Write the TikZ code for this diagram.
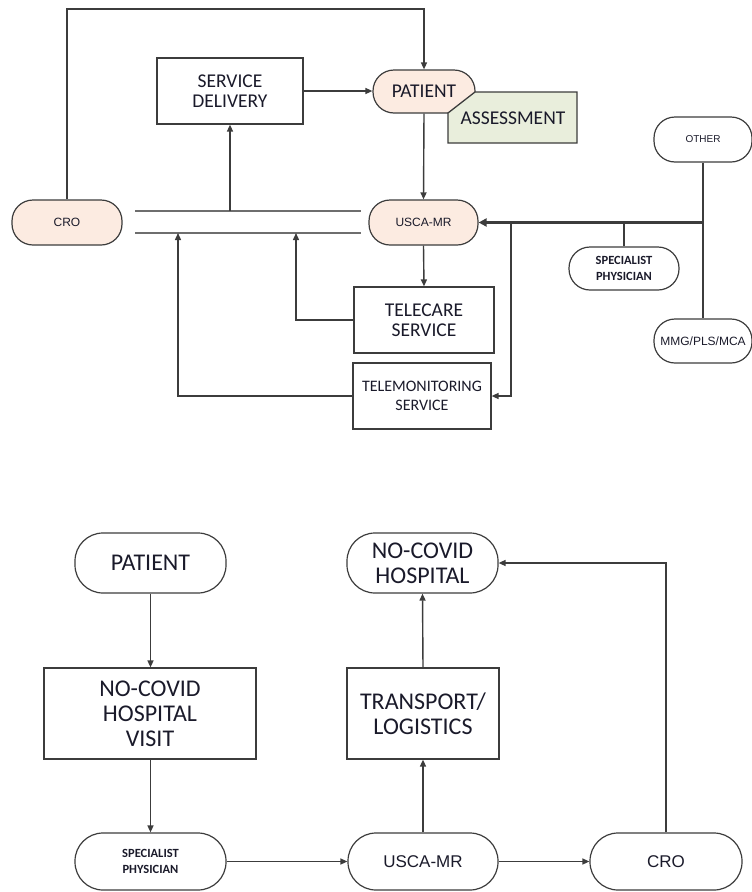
\documentclass[tikz,border=0pt]{standalone}
\usepackage{fontspec}
\setmainfont{Carlito}
\newfontfamily\arialfont{Liberation Sans}
\usetikzlibrary{arrows.meta}
\definecolor{peach}{HTML}{FCEBE1}
\definecolor{sage}{HTML}{E9EEDC}
\definecolor{edge}{HTML}{3C3C3C}
\definecolor{busgray}{HTML}{6E6E6E}
\definecolor{ink}{HTML}{1A1A2A}
\begin{document}
\begin{tikzpicture}[x=1pt,y=-1pt,
  line/.style={draw=edge,line width=1.4pt},
  arr/.style={line,-{Triangle[length=7pt,width=6pt]}},
  bus/.style={draw=busgray,line width=1.7pt},
  pillS/.style={draw=edge,line width=1.2pt,rounded corners=21pt,minimum height=44pt,inner sep=0pt,align=center,text=ink},
  pillL/.style={draw=edge,line width=1.2pt,rounded corners=28pt,minimum height=58pt,inner sep=0pt,align=center,text=ink},
  boxx/.style={draw=edge,line width=1.2pt,inner sep=0pt,align=center,text=ink},
  calS/.style={font=\fontsize{19.5}{20}\selectfont},
  calM/.style={font=\fontsize{16}{19}\selectfont},
  calT/.style={font=\bfseries\fontsize{12.5}{16}\selectfont},
  calL/.style={font=\fontsize{24}{25}\selectfont},
  arS/.style={font=\arialfont\fontsize{12}{14}\selectfont},
  arT/.style={font=\arialfont\fontsize{10}{12}\selectfont},
  arL/.style={font=\arialfont\fontsize{17}{19}\selectfont}
]
\useasboundingbox (0,0) rectangle (752,892);

% ---------- upper flow ----------
\node[boxx,calS,minimum width=146pt,minimum height=66pt] (sd) at (230,91) {SERVICE\\DELIVERY};
\node[pillS,calS,fill=peach,minimum width=102pt,minimum height=43pt] (pat1) at (424,91.5) {PATIENT};
\draw[draw=edge,fill=sage,line width=1.3pt] (448,113) -- (475,92) -- (577,92) -- (577,143) -- (448,143) -- cycle;
\node[calS,text=ink,inner sep=0pt] (assess) at (513,118) {ASSESSMENT};

\node[pillS,arS,fill=peach,minimum width=110pt,minimum height=45pt] (cro1) at (67,222.5) {CRO};
\node[pillS,arS,fill=peach,minimum width=109pt,minimum height=45pt] (usca1) at (423.5,222.5) {USCA-MR};

\node[pillS,arT,minimum width=98pt,minimum height=45pt] (other) at (703,139.5) {OTHER};
\node[pillS,calT,minimum width=110pt,minimum height=43pt] (spec1) at (624,268.5) {SPECIALIST\\PHYSICIAN};
\node[pillS,arS,minimum width=98pt,minimum height=44pt] (mmg) at (703,341) {MMG/PLS/MCA};

\node[boxx,calS,minimum width=140pt,minimum height=66pt] (telecare) at (424,320) {TELECARE\\SERVICE};
\node[boxx,calM,minimum width=138pt,minimum height=66pt] (telemon) at (422,396) {TELEMONITORING\\SERVICE};

% bus lines
\coordinate (busUL) at (135,211);
\coordinate (busUR) at (361,211);
\coordinate (busLL) at (135,233);
\coordinate (busLR) at (361,233);
\draw[bus] (busUL) -- (busUR);
\draw[bus] (busLL) -- (busLR);

% connectors
\coordinate (top) at (0,9);
\draw[arr] (cro1.north) -- (cro1.north |- top) -| (pat1.north);
\draw[arr] (sd.east) -- (pat1.west |- sd.east);
\draw[arr] (pat1.south) -- (usca1.north);
\draw[arr] (sd.south |- busUL) -- (sd.south);
\draw[arr] (usca1.south) -- (telecare.north);
\coordinate (tcin) at (296,233);
\draw[arr] (telecare.west) -| (tcin);
\coordinate (tmin) at (178,233);
\draw[arr] (telemon.west) -| (tmin);

\coordinate (junc) at (other.south |- usca1.east);
\draw[draw=edge,line width=2.4pt,-{Triangle[length=8pt,width=8pt]}] (junc) -- (usca1.east);
\draw[line] (other.south) -- (mmg.north);
\draw[line] (spec1.north) -- (spec1.north |- junc);
\coordinate (tap) at (511,222.5);
\draw[arr] (tap) |- (telemon.east);

% ---------- lower flow ----------
\node[pillL,calL,minimum width=151pt,minimum height=60pt] (pat2) at (150.5,563) {PATIENT};
\node[boxx,calL,minimum width=212pt,minimum height=91pt] (visit) at (150,713.5) {NO-COVID\\HOSPITAL\\VISIT};
\node[pillL,calT,minimum width=151pt,minimum height=57pt] (spec2) at (150.5,861.5) {SPECIALIST\\PHYSICIAN};
\node[pillL,arL,minimum width=150pt,minimum height=57pt] (usca2) at (423,861.5) {USCA-MR};
\node[pillL,arL,minimum width=152pt,minimum height=57pt] (cro2) at (666,861.5) {CRO};
\node[boxx,calL,minimum width=152pt,minimum height=91pt] (trans) at (423,713.5) {TRANSPORT/\\LOGISTICS};
\node[pillL,calL,minimum width=151pt,minimum height=60pt] (hosp) at (422.5,563) {NO-COVID\\HOSPITAL};

\draw[arr] (pat2.south) -- (visit.north -| pat2.south);
\draw[arr] (visit.south -| spec2.north) -- (spec2.north);
\draw[arr] (spec2.east) -- (usca2.west);
\draw[arr] (usca2.east) -- (cro2.west);
\draw[arr] (usca2.north) -- (trans.south);
\draw[arr] (trans.north) -- (hosp.south);
\draw[arr] (cro2.north) |- (hosp.east);
\end{tikzpicture}
\end{document}
